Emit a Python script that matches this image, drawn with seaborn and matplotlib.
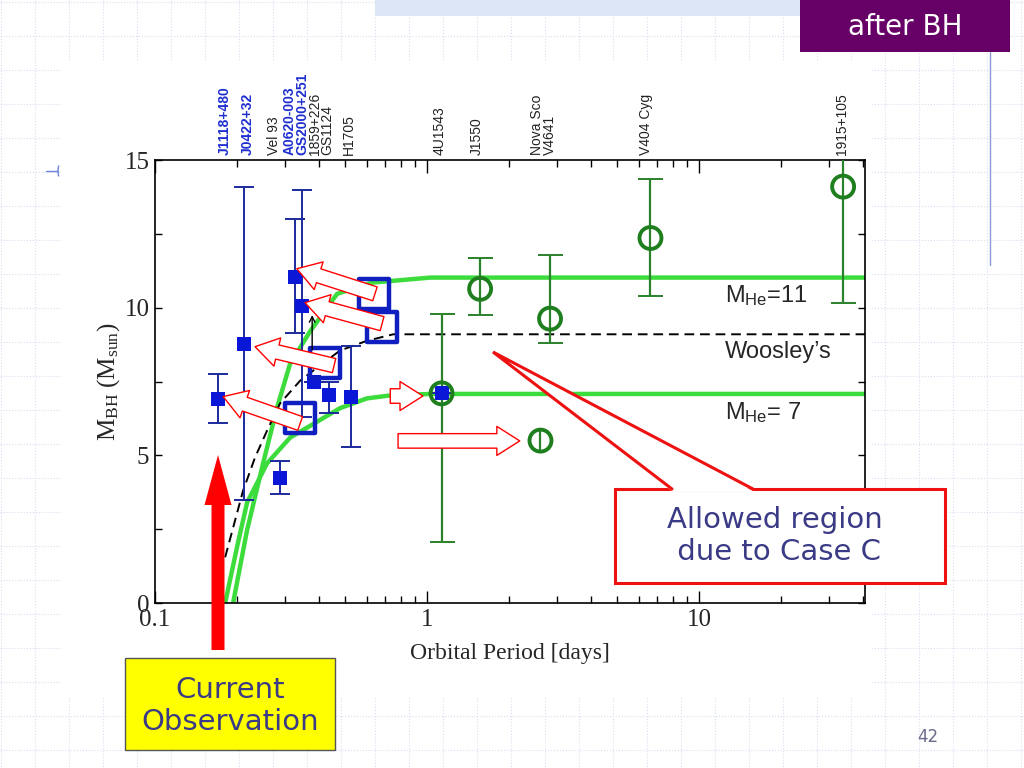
import matplotlib
matplotlib.use('Agg')
import matplotlib.pyplot as plt
import matplotlib.patches as mpatches
from matplotlib.ticker import MultipleLocator, NullFormatter
import seaborn as sns

# ---- values ----
# measured BH masses (filled squares)
obs_p = [0.171, 0.212, 0.288, 0.327, 0.347, 0.384, 0.436, 0.525, 1.13]
obs_m = [6.90, 8.78, 4.24, 11.05, 10.07, 7.47, 7.03, 6.96, 7.10]
obs_lo = [6.08, 3.48, 3.70, 9.15, 6.30, 7.47, 6.45, 5.27, 7.10]
obs_hi = [7.77, 14.10, 4.80, 13.00, 14.00, 7.47, 7.50, 8.70, 7.10]

# corrected positions (open squares)
mod_p = [0.341, 0.422, 0.638, 0.683]
mod_m = [6.26, 8.13, 10.46, 9.35]

# long period systems (green circles)
lp_p = [1.13, 1.566, 2.83, 6.62, 33.8]
lp_m = [7.10, 10.64, 9.63, 12.36, 14.10]
lp_lo = [2.05, 9.76, 8.80, 10.40, 10.15]
lp_hi = [9.80, 11.70, 11.80, 14.35, 16.00]
v4641_p = [2.61]
v4641_m = [5.50]

# model curves
he11_p = [0.1936, 0.2179, 0.2495, 0.2809, 0.3135, 0.3715, 0.4668, 0.628, 1.026, 41.0]
he11_m = [0.0, 2.47, 4.73, 6.62, 8.10, 9.20, 10.47, 10.85, 11.02, 11.02]
he7_p = [0.181, 0.2002, 0.2179, 0.2581, 0.3135, 0.3715, 0.4787, 0.601, 0.731, 1.026, 41.0]
he7_m = [0.0, 1.90, 3.40, 4.73, 5.60, 6.00, 6.60, 6.93, 7.03, 7.08, 7.08]
woos_p = [0.181, 0.2106, 0.2331, 0.2581, 0.288, 0.3415, 0.3939, 0.4787, 0.601, 0.751, 41.0]
woos_m = [1.55, 3.80, 4.93, 5.84, 6.76, 7.53, 7.97, 8.55, 8.88, 9.10, 9.10]

# shift arrows (tail -> head)
arr_p0 = [0.3415, 0.455, 0.683, 0.643, 0.732, 0.782]
arr_m0 = [6.08, 8.04, 9.46, 10.47, 7.01, 5.49]
arr_p1 = [0.178, 0.2331, 0.356, 0.332, 0.965, 2.19]
arr_m1 = [6.99, 8.68, 10.17, 11.32, 7.01, 5.49]

# source names on top (some stacked in two lines)
src_names = ['J1118+480', 'J0422+32', 'Vel 93', 'A0620-003\nGS2000+251', '1859+226\nGS1124',
             'H1705', '4U1543', 'J1550', 'Nova Sco\nV4641', 'V404 Cyg', '1915+105']
src_p = [0.181, 0.2197, 0.2737, 0.3295, 0.408, 0.5168, 1.112, 1.528, 2.68, 6.4, 33.5]
src_bold = ['J1118+480', 'J0422+32', 'A0620-003\nGS2000+251']

sns.set_style('ticks')
plt.rcParams['mathtext.default'] = 'regular'

fig = plt.figure(figsize=(10.24, 7.68), dpi=100)

# slide background (pixel coordinates)
bg = fig.add_axes([0, 0, 1, 1], zorder=0)
bg.set_xlim(0, 1024)
bg.set_ylim(768, 0)
bg.axis('off')
for gx in range(1, 1024, 34):
    bg.plot([gx, gx], [0, 768], color='#d8def0', lw=0.8, ls=':', zorder=0)
for gy in range(2, 768, 34):
    bg.plot([0, 1024], [gy, gy], color='#d8def0', lw=0.8, ls=':', zorder=0)
bg.add_patch(mpatches.Rectangle((375, 0), 425, 16, fc='#dde6f6', ec='none', zorder=1))
bg.add_patch(mpatches.Rectangle((62, 62), 808, 635, fc='white', ec='none', zorder=1))
bg.add_patch(mpatches.Rectangle((800, 0), 210, 52, fc='#660066', ec='none', zorder=2))
bg.text(905, 27, 'after BH', color='white', fontsize=20, family='DejaVu Sans',
        ha='center', va='center', zorder=3)
bg.plot([990, 990], [52, 265], color='#8a98d8', lw=1, zorder=2)
bg.plot([46, 58], [171, 171], color='#6f84d8', lw=1, zorder=2)
bg.add_patch(mpatches.Arc((62, 171), 8, 18, theta1=120, theta2=240, color='#6f84d8', lw=1, zorder=2))
bg.text(928, 737, '42', color='#6a6a8a', fontsize=12, family='DejaVu Sans',
        ha='center', va='center', zorder=3)

# main chart
ax = fig.add_axes([0.1514, 0.2148, 0.6934, 0.5768], zorder=1)
ax.set_facecolor('white')

green = '#3ddc3d'
sns.lineplot(x=he11_p, y=he11_m, ax=ax, color=green, lw=3.2, sort=False, estimator=None, zorder=2)
sns.lineplot(x=he7_p, y=he7_m, ax=ax, color=green, lw=3.2, sort=False, estimator=None, zorder=2)
sns.lineplot(x=woos_p, y=woos_m, ax=ax, color='black', lw=1.4, sort=False, estimator=None,
             linestyle=(0, (5, 3)), zorder=3)

# error bars
ax.errorbar(obs_p, obs_m, yerr=[[m - l for m, l in zip(obs_m, obs_lo)],
                                [h - m for m, h in zip(obs_m, obs_hi)]],
            fmt='none', ecolor='#1c2a9c', elinewidth=1.4, capsize=7, capthick=1.4, zorder=4)
ax.errorbar(lp_p, lp_m, yerr=[[m - l for m, l in zip(lp_m, lp_lo)],
                              [h - m for m, h in zip(lp_m, lp_hi)]],
            fmt='none', ecolor='#2a822a', elinewidth=1.6, capsize=9, capthick=1.4, zorder=4)
ax.errorbar(v4641_p, v4641_m, yerr=0.32, fmt='none', ecolor='#2a822a', elinewidth=1.6,
            capsize=0, zorder=4)

sns.scatterplot(x=obs_p, y=obs_m, ax=ax, marker='s', s=110, color='#0b17d6',
                edgecolor='#0b17d6', linewidth=0, zorder=5)
sns.scatterplot(x=mod_p, y=mod_m, ax=ax, marker='s', s=460, facecolor='none',
                edgecolor='#1020c0', linewidth=3.2, zorder=5)
sns.scatterplot(x=lp_p + v4641_p, y=lp_m + v4641_m, ax=ax, marker='o', s=250, facecolor='none',
                edgecolor='#1f7f1f', linewidth=2.8, zorder=6)

# shift arrows
for p0, m0, p1, m1 in zip(arr_p0, arr_m0, arr_p1, arr_m1):
    ax.annotate('', xy=(p1, m1), xytext=(p0, m0),
                arrowprops=dict(arrowstyle='simple,head_length=1.5,head_width=1.9,tail_width=0.95',
                                fc='white', ec='red', lw=1.0, shrinkA=0, shrinkB=0,
                                mutation_scale=11), zorder=7)
ax.annotate('', xy=(0.378, 9.75), xytext=(0.378, 8.57),
            arrowprops=dict(arrowstyle='->', color='black', lw=1.0, shrinkA=0, shrinkB=0), zorder=7)

ax.set_xscale('log')
ax.set_xlim(0.1, 40.7)
ax.set_ylim(0, 15)
ax.set_xticks([0.1, 1, 10], labels=['0.1', '1', '10'])
ax.xaxis.set_minor_formatter(NullFormatter())
ax.set_yticks([0, 5, 10, 15])
ax.yaxis.set_minor_locator(MultipleLocator(2.5))
ax.tick_params(which='both', direction='in', top=True, right=True, width=1, color='black')
ax.tick_params(axis='x', which='major', length=9, pad=4)
ax.tick_params(axis='x', which='minor', length=5)
ax.tick_params(axis='y', which='both', length=5, pad=4)
for lab in ax.get_xticklabels() + ax.get_yticklabels():
    lab.set_family('Liberation Serif')
    lab.set_fontsize(18)
for sp in ax.spines.values():
    sp.set_color('black')
    sp.set_linewidth(1.2)

ax.set_xlabel('Orbital Period [days]', family='Liberation Serif', fontsize=17, labelpad=9)
ax.set_ylabel('$M_{BH}$ ($M_{sun}$)', family='Liberation Serif', fontsize=18, labelpad=2)

ax.text(12.4, 10.4, '$M_{He}$=11', family='Liberation Sans', fontsize=17, va='center', ha='left')
ax.text(12.4, 8.5, 'Woosley\u2019s', family='Liberation Sans', fontsize=17, va='center', ha='left')
ax.text(12.4, 6.45, '$M_{He}$= 7', family='Liberation Sans', fontsize=17, va='center', ha='left')

top = ax.get_xaxis_transform()
for name, p in zip(src_names, src_p):
    bold = name in src_bold
    ax.text(p, 1.012, name, transform=top, rotation=90, ha='center', va='bottom',
            multialignment='left', linespacing=0.85,
            family='Liberation Sans', fontsize=10,
            fontweight='bold' if bold else 'normal',
            color='#1f2fd0' if bold else '#222222')

# slide overlays (pixel coordinates)
fg = fig.add_axes([0, 0, 1, 1], zorder=5)
fg.set_xlim(0, 1024)
fg.set_ylim(768, 0)
fg.axis('off')
fg.patch.set_alpha(0)

fg.add_patch(mpatches.FancyArrow(218, 650, 0, -195, width=13, head_width=27, head_length=50,
                                 length_includes_head=True, color='#ff0000', lw=0))
fg.add_patch(mpatches.Rectangle((125, 658), 210, 92, fc='#ffff00', ec='#555555', lw=1))
fg.text(230, 706, 'Current\nObservation', color='#3a3a86', fontsize=21, family='DejaVu Sans',
        ha='center', va='center', linespacing=1.15)

fg.add_patch(mpatches.Rectangle((615, 489), 330, 94, fc='white', ec='#ee1111', lw=2.2))
fg.add_patch(mpatches.Polygon([(672, 491), (493, 352), (753, 491)], closed=True,
                              fc='white', ec='none'))
fg.plot([672, 493, 753], [489, 352, 489], color='#ee1111', lw=2.2, solid_joinstyle='miter')
fg.text(775, 536, 'Allowed region\n due to Case C', color='#3a3a86', fontsize=21,
        family='DejaVu Sans', ha='center', va='center', linespacing=1.15)

fig.savefig('out.png', dpi=100)
